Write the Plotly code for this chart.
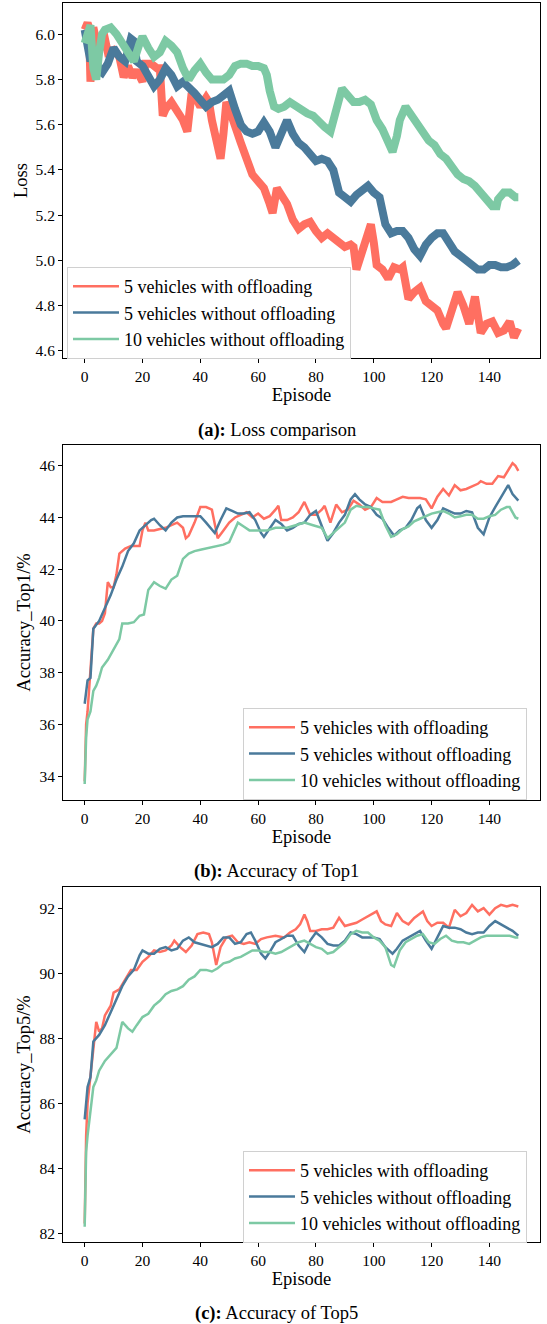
import plotly.graph_objects as go

# ---------------- data ----------------
series_names = ["5 vehicles with offloading", "5 vehicles without offloading", "10 vehicles without offloading"]
colors = ["#FF6F61", "#4A7A9B", "#7DC9A4"]

# Loss
loss_red_x = [0, 1, 1.5, 2, 2.5, 3, 4, 5, 6, 7, 8, 10, 12, 13.5, 15, 16.5, 18, 20, 21, 23, 25, 26, 27, 28, 30, 32, 34, 35.5,
              37, 38, 40, 42, 43, 44, 46, 47, 48, 49, 50, 52, 54, 56, 58, 60, 62, 64, 65, 66.5, 68, 70, 72, 74, 76, 78,
              80, 82, 84, 86, 88, 90, 92, 93, 94, 96, 98, 99, 100, 101, 103, 105, 107, 109, 110, 112, 114, 116, 118,
              120, 122, 124, 125, 127, 129, 131, 133, 135, 137, 139, 141, 143, 145, 147, 148.5, 150]
loss_red_y = [6.02, 6.05, 6.03, 5.79, 5.95, 6.03, 5.97, 5.93, 5.97, 5.98, 5.92, 5.93, 5.90, 5.81, 5.86, 5.81, 5.84, 5.79,
              5.87, 5.87, 5.85, 5.85, 5.64, 5.67, 5.70, 5.66, 5.62, 5.57, 5.74, 5.73, 5.68, 5.72, 5.70, 5.62, 5.50,
              5.45, 5.56, 5.70, 5.67, 5.58, 5.52, 5.45, 5.38, 5.35, 5.32, 5.25, 5.21, 5.32, 5.29, 5.25, 5.18, 5.14,
              5.16, 5.17, 5.13, 5.10, 5.12, 5.10, 5.08, 5.06, 5.07, 5.06, 4.96, 5.03, 5.10, 5.16, 5.08, 4.98, 4.96,
              4.92, 4.97, 4.96, 4.97, 4.83, 4.86, 4.88, 4.82, 4.80, 4.78, 4.72, 4.70, 4.78, 4.86, 4.80, 4.72, 4.84,
              4.68, 4.72, 4.73, 4.68, 4.69, 4.73, 4.66, 4.70]

loss_blue_x = [0, 1, 2, 3, 4, 5, 6, 8, 10, 12, 14, 15, 16, 17, 18, 20, 22, 24, 26, 28, 30, 32, 34, 36, 38, 40, 42, 44,
               46, 48, 50, 52, 54, 56, 58, 60, 62, 64, 66, 68, 70, 72, 74, 76, 78, 80, 82, 84, 86, 88, 90, 92, 94, 96,
               98, 100, 102, 104, 106, 108, 110, 112, 114, 116, 118, 120, 122, 124, 126, 128, 130, 132, 134, 136, 138,
               140, 142, 144, 146, 148, 150]
loss_blue_y = [6.02, 5.95, 5.88, 5.92, 5.86, 5.84, 5.83, 5.87, 5.94, 5.90, 5.88, 5.92, 5.98, 5.97, 5.88, 5.86, 5.82,
               5.77, 5.80, 5.85, 5.82, 5.77, 5.79, 5.77, 5.74, 5.71, 5.68, 5.70, 5.71, 5.73, 5.75, 5.67, 5.60, 5.57,
               5.56, 5.57, 5.61, 5.57, 5.50, 5.56, 5.62, 5.56, 5.52, 5.50, 5.47, 5.44, 5.45, 5.44, 5.40, 5.30, 5.28,
               5.26, 5.29, 5.31, 5.33, 5.30, 5.28, 5.16, 5.12, 5.13, 5.13, 5.10, 5.05, 5.02, 5.07, 5.10, 5.12, 5.12,
               5.08, 5.04, 5.02, 5.00, 4.98, 4.96, 4.96, 4.98, 4.98, 4.97, 4.97, 4.98, 5.00]

loss_green_x = [0, 1, 2, 3, 4, 5, 6, 7, 9, 11, 13, 15, 17, 19, 20, 22, 24, 26, 28, 30, 32, 34, 36, 38, 40, 42, 44, 46,
                48, 50, 52, 54, 56, 58, 60, 62, 63, 64, 65.5, 67, 69, 71, 73, 75, 77, 79, 81, 83, 85, 87, 89, 91, 93,
                95, 97, 99, 101, 103, 105, 106.5, 108, 109, 111, 113, 115, 117, 119, 121, 123, 125, 127, 129, 131, 133,
                135, 137, 139, 141, 142.5, 143, 145, 147, 149, 150]
loss_green_y = [5.96, 6.02, 6.04, 5.85, 5.80, 5.92, 6.00, 6.02, 6.03, 6.00, 5.96, 5.92, 5.88, 5.96, 5.99, 5.94, 5.90,
                5.92, 5.97, 5.95, 5.92, 5.85, 5.80, 5.84, 5.87, 5.83, 5.80, 5.80, 5.80, 5.82, 5.86, 5.87, 5.87, 5.86,
                5.86, 5.85, 5.82, 5.75, 5.68, 5.67, 5.68, 5.70, 5.68, 5.66, 5.65, 5.64, 5.61, 5.59, 5.57, 5.66, 5.76,
                5.73, 5.70, 5.70, 5.71, 5.69, 5.62, 5.58, 5.53, 5.48, 5.55, 5.62, 5.68, 5.64, 5.60, 5.56, 5.53, 5.51,
                5.47, 5.45, 5.41, 5.38, 5.36, 5.35, 5.33, 5.30, 5.26, 5.24, 5.24, 5.27, 5.30, 5.30, 5.28, 5.28]

# Top1 accuracy
top1_red_x = [0, 0.5, 1, 2, 3, 4, 5, 6, 7, 8, 9, 10, 11, 12, 13, 14, 16, 18, 19, 20, 21, 22, 24, 26, 28, 30, 32, 34, 35,
              36, 38, 40, 42, 44, 45, 46, 48, 50, 52, 54, 56, 58, 60, 62, 64, 66, 67, 68, 70, 72, 74, 76, 78, 80, 82,
              83, 85, 87, 89, 91, 93, 95, 97, 99, 101, 103, 106, 108, 110, 112, 114, 116, 118, 120, 122, 124, 126,
              128, 130, 132, 134, 136, 137, 139, 141, 143, 145, 147, 148, 149, 150]
top1_red_y = [33.8, 36.0, 36.5, 38.3, 39.7, 39.9, 39.9, 40.0, 40.3, 41.5, 41.3, 41.3, 41.8, 42.6, 42.7, 42.8, 42.9,
              42.9, 42.9, 43.5, 43.8, 43.5, 43.5, 43.55, 43.6, 43.7, 43.8, 43.6, 43.2, 43.3, 43.8, 44.4, 44.4, 44.3,
              43.8, 43.2, 43.5, 43.8, 44.0, 44.1, 44.2, 44.0, 44.15, 43.95, 44.05, 44.3, 44.45, 43.9, 43.9, 44.0,
              44.2, 44.6, 44.1, 44.1, 44.3, 44.45, 43.8, 44.5, 44.2, 44.3, 44.65, 44.5, 44.3, 44.4, 44.75, 44.6,
              44.6, 44.7, 44.8, 44.75, 44.75, 44.75, 44.7, 44.35, 44.8, 45.1, 44.85, 45.25, 45.05, 45.1, 45.2, 45.3,
              45.4, 45.3, 45.3, 45.6, 45.55, 45.9, 46.1, 46.0, 45.8]

top1_blue_x = [0, 1, 2, 3, 5, 7, 9, 11, 13, 15, 17, 19, 21, 23, 24, 26, 28, 30, 32, 34, 36, 38, 40, 42, 45, 47, 49, 51,
               53, 55, 57, 59, 61, 62, 64, 66, 68, 70, 72, 74, 76, 78, 80, 82, 84, 86, 88, 90, 92, 93.5, 95, 97, 99,
               101, 103, 105, 107, 109, 111, 113, 115, 116, 118, 120, 122, 124, 126, 128, 130, 132, 134, 136, 138, 140,
               142, 144, 146, 146.5, 148, 150]
top1_blue_y = [36.8, 37.7, 37.8, 39.7, 40.0, 40.5, 41.0, 41.6, 42.1, 42.7, 43.0, 43.5, 43.7, 43.9, 43.95, 43.7, 43.5,
               43.8, 44.0, 44.05, 44.05, 44.05, 44.05, 43.8, 43.4, 43.9, 44.35, 44.25, 44.15, 44.15, 44.2, 43.9, 43.4,
               43.25, 43.6, 43.9, 43.75, 43.5, 43.6, 43.75, 43.8, 44.1, 44.25, 43.7, 43.1, 43.4, 43.8, 44.1, 44.7,
               44.9, 44.7, 44.5, 44.4, 44.1, 43.95, 43.6, 43.3, 43.5, 43.6, 43.9, 44.35, 44.45, 43.9, 43.6, 43.9,
               44.35, 44.25, 44.15, 44.15, 44.25, 44.2, 43.6, 43.35, 44.0, 44.4, 44.8, 45.2, 45.25, 44.9, 44.65]

top1_green_x = [0, 0.5, 1, 2, 3, 4, 5, 6, 8, 10, 12, 13, 15, 17, 19, 20.5, 22, 24, 26, 28, 30, 32, 34, 36, 38, 40, 42,
                44, 46, 48, 50, 52, 53, 55, 57, 60, 63, 66, 70, 73, 76, 79, 82, 84, 86, 88, 90, 92, 94, 96, 98, 100,
                102, 104, 106, 108, 110, 112, 114, 116, 118, 120, 122, 124, 126, 128, 130, 132, 134, 136, 138, 140,
                142, 144, 146, 147, 149, 150]
top1_green_y = [33.7, 35.5, 36.2, 36.5, 37.3, 37.5, 37.8, 38.2, 38.5, 38.9, 39.3, 39.9, 39.9, 39.95, 40.2, 40.25, 41.2,
                41.5, 41.35, 41.25, 41.6, 41.75, 42.4, 42.6, 42.7, 42.75, 42.8, 42.85, 42.9, 42.95, 43.05, 43.6, 43.8,
                43.65, 43.5, 43.5, 43.5, 43.6, 43.6, 43.7, 43.8, 43.7, 43.6, 43.2, 43.4, 43.6, 43.8, 44.3, 44.45,
                44.4, 44.4, 44.35, 44.3, 43.7, 43.25, 43.35, 43.55, 43.65, 43.85, 43.95, 44.05, 44.15, 44.2, 44.25,
                44.15, 44.0, 44.05, 44.1, 44.1, 43.95, 43.95, 44.05, 44.1, 44.3, 44.4, 44.4, 44.0, 43.95]

# Top5 accuracy
top5_red_x = [0, 0.5, 1, 2, 3, 4, 5, 6, 7, 9, 10, 12, 14, 16, 18, 20, 22, 24, 26, 28, 30, 31, 33, 35, 37, 39, 41, 43,
              44, 45.5, 47, 49, 51, 53, 55, 57, 59, 61, 63, 66, 69, 71, 73, 74.5, 76, 77, 78, 80, 82, 84, 86, 88, 90,
              92, 94, 96, 98, 100, 101, 102.5, 104, 106, 108, 110, 112, 114, 117, 118.5, 120, 122, 124, 126, 128, 130,
              132, 134, 136, 138, 140, 142, 144, 146, 148, 150]
top5_red_y = [82.3, 85.0, 86.0, 86.9, 87.7, 88.5, 88.2, 88.3, 88.7, 89.0, 89.4, 89.5, 89.8, 90.1, 90.1, 90.35, 90.5,
              90.7, 90.65, 90.7, 90.85, 91.0, 90.8, 90.65, 90.85, 91.2, 91.25, 91.2, 90.95, 90.25, 90.8, 91.1, 91.15,
              90.95, 90.9, 90.95, 90.9, 91.05, 91.1, 91.15, 91.1, 91.25, 91.35, 91.5, 91.8, 91.6, 91.3, 91.3, 91.35,
              91.35, 91.4, 91.7, 91.45, 91.5, 91.55, 91.65, 91.75, 91.85, 91.9, 91.6, 91.5, 91.45, 91.85, 91.6, 91.5,
              91.7, 91.9, 91.6, 91.45, 91.55, 91.55, 91.4, 91.95, 91.75, 91.85, 92.1, 91.9, 92.0, 91.8, 92.0, 92.1,
              92.05, 92.1, 92.05]

top5_blue_x = [0, 1, 2, 3, 5, 7, 9, 11, 13, 15, 17, 19, 20, 22, 24, 26, 28, 30, 32, 34, 36, 38, 40, 42, 44, 46, 48, 50,
               52, 54, 56, 57.5, 59, 61, 62.5, 64, 66, 68, 70, 72, 74, 76, 78, 80, 82, 84, 86, 88, 90, 92, 94, 96, 98,
               100, 102, 104, 106.5, 108, 110, 112, 114, 116, 118, 120, 122, 124, 126, 128, 130, 132, 134, 136, 138,
               140, 142, 144, 146, 148, 150]
top5_blue_y = [85.5, 86.5, 86.8, 87.9, 88.1, 88.4, 88.8, 89.2, 89.6, 89.9, 90.1, 90.55, 90.7, 90.6, 90.6, 90.75, 90.8,
               90.7, 90.75, 91.0, 91.1, 90.95, 90.9, 90.85, 90.8, 90.9, 91.1, 91.1, 90.9, 90.95, 91.2, 91.25, 91.0,
               90.6, 90.45, 90.65, 90.95, 91.05, 91.15, 91.15, 90.85, 90.65, 91.0, 91.25, 91.1, 90.9, 90.85, 90.85,
               91.0, 91.25, 91.2, 91.1, 91.1, 91.1, 91.05, 90.8, 90.6, 90.75, 91.0, 91.1, 91.2, 91.3, 91.0, 90.75,
               91.1, 91.45, 91.4, 91.4, 91.35, 91.25, 91.2, 91.25, 91.25, 91.45, 91.6, 91.5, 91.4, 91.3, 91.15]

top5_green_x = [0, 0.5, 1, 2, 3, 4, 5, 7, 9, 11, 12, 13, 15, 16.5, 18, 20, 22, 24, 26, 28, 30, 32, 34, 36, 38, 40, 42,
                44, 46, 48, 50, 52, 54, 56, 58, 60, 62, 64, 66, 68, 70, 72, 74, 76, 78, 80, 82, 84, 86, 88, 90, 92, 94,
                96, 98, 100, 102, 104, 106, 107, 109, 111, 113, 115, 117, 119, 121, 123, 125, 127, 129, 131, 133, 135,
                137, 139, 141, 143, 145, 147, 149, 150]
top5_green_y = [82.2, 84.5, 85.0, 85.8, 86.5, 86.7, 87.0, 87.3, 87.5, 87.7, 88.1, 88.5, 88.3, 88.2, 88.4, 88.65,
                88.75, 89.0, 89.15, 89.35, 89.45, 89.5, 89.6, 89.8, 89.9, 90.1, 90.1, 90.05, 90.15, 90.3, 90.35, 90.45,
                90.5, 90.6, 90.7, 90.7, 90.65, 90.65, 90.6, 90.65, 90.75, 90.85, 90.95, 91.0, 90.9, 90.8, 90.75, 90.6,
                90.65, 90.8, 90.95, 91.2, 91.3, 91.25, 91.25, 91.1, 91.0, 90.8, 90.25, 90.2, 90.7, 90.95, 91.05,
                91.15, 91.2, 90.95, 90.9, 91.05, 91.15, 91.0, 90.95, 90.95, 90.9, 91.0, 91.1, 91.15, 91.15, 91.15,
                91.15, 91.15, 91.1, 91.1]

x_ticks = [0, 20, 40, 60, 80, 100, 120, 140]
loss_ticks = [4.6, 4.8, 5.0, 5.2, 5.4, 5.6, 5.8, 6.0]
top1_ticks = [34, 36, 38, 40, 42, 44, 46]
top5_ticks = [82, 84, 86, 88, 90, 92]
y_titles = ["Loss", "Accuracy_Top1/%", "Accuracy_Top5/%"]
captions = [("(a):", "Loss comparison"), ("(b):", "Accuracy of Top1"), ("(c):", "Accuracy of Top5")]

# ---------------- layout geometry (pixels) ----------------
W, H = 547, 1324
FONT = "Liberation Serif"
ax_left, ax_right = 63, 540
panels_px = [(3, 358), (445, 800), (887, 1242)]
y_ranges = [[4.569, 6.138], [33.08, 46.80], [81.73, 92.65]]
legend_pos = [(67, 267), (243, 708), (243, 1151)]
caption_y = [430, 871, 1313]


def px_x(p):
    return p / W


def px_y(p):
    return 1 - p / H


fig = go.Figure()

data_sets = [
    [(loss_red_x, loss_red_y), (loss_blue_x, loss_blue_y), (loss_green_x, loss_green_y)],
    [(top1_red_x, top1_red_y), (top1_blue_x, top1_blue_y), (top1_green_x, top1_green_y)],
    [(top5_red_x, top5_red_y), (top5_blue_x, top5_blue_y), (top5_green_x, top5_green_y)],
]
ticks_list = [loss_ticks, top1_ticks, top5_ticks]

for p in range(3):
    xa = "x" if p == 0 else f"x{p + 1}"
    ya = "y" if p == 0 else f"y{p + 1}"
    leg = "legend" if p == 0 else f"legend{p + 1}"
    thick = (p == 0)
    for s in range(3):
        xs, ys = data_sets[p][s]
        fig.add_trace(go.Scatter(
            x=xs, y=ys, mode="lines", name=series_names[s],
            line=dict(color=colors[s], width=8 if thick else 2.5),
            xaxis=xa, yaxis=ya, legend=leg, showlegend=not thick,
            hoverinfo="skip",
        ))
    if thick:
        for s in range(3):
            fig.add_trace(go.Scatter(
                x=[None], y=[None], mode="lines", name=series_names[s],
                line=dict(color=colors[s], width=2.5),
                xaxis=xa, yaxis=ya, legend=leg, showlegend=True,
            ))

layout = dict(
    width=W, height=H,
    margin=dict(l=0, r=0, t=0, b=0),
    paper_bgcolor="white", plot_bgcolor="white",
    font=dict(family=FONT, size=16, color="black"),
    annotations=[],
)

axis_common = dict(
    showline=True, linecolor="black", linewidth=1, mirror=True,
    ticks="outside", ticklen=4, tickwidth=1, tickcolor="black",
    showgrid=False, zeroline=False, automargin=False,
    tickfont=dict(family=FONT, size=15.5, color="black"),
)

for p in range(3):
    top, bot = panels_px[p]
    xkey = "xaxis" if p == 0 else f"xaxis{p + 1}"
    ykey = "yaxis" if p == 0 else f"yaxis{p + 1}"
    ya = "y" if p == 0 else f"y{p + 1}"
    xa = "x" if p == 0 else f"x{p + 1}"
    layout[xkey] = dict(
        axis_common, domain=[px_x(ax_left), px_x(ax_right)], range=[-7.5, 157.5],
        tickvals=x_ticks, anchor=ya,
        title=dict(text="Episode", font=dict(family=FONT, size=18.5), standoff=2),
    )
    layout[ykey] = dict(
        axis_common, domain=[px_y(bot), px_y(top)], range=y_ranges[p],
        tickvals=ticks_list[p], tickformat=".1f" if p == 0 else "d", anchor=xa,
        title=dict(text=y_titles[p], font=dict(family=FONT, size=18.5), standoff=3),
    )
    lk = "legend" if p == 0 else f"legend{p + 1}"
    lx, ly = legend_pos[p]
    layout[lk] = dict(
        x=px_x(lx), y=px_y(ly), xanchor="left", yanchor="top",
        bgcolor="rgba(255,255,255,0.8)", bordercolor="#d0d0d0", borderwidth=1,
        font=dict(family=FONT, size=18, color="black"),
        itemwidth=46, tracegroupgap=0,
    )
    bold, rest = captions[p]
    layout["annotations"].append(dict(
        text=f"<b>{bold}</b> {rest}", x=px_x(277), y=px_y(caption_y[p]),
        xref="paper", yref="paper", xanchor="center", yanchor="middle",
        showarrow=False, font=dict(family=FONT, size=18.5, color="black"),
    ))

fig.update_layout(**layout)
fig.write_html("out.html", config={"displayModeBar": False},
               post_script="document.body.style.margin='0px';")
